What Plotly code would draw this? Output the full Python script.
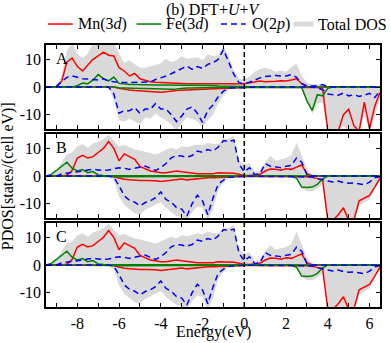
import numpy as np
import plotly.graph_objects as go
from plotly.subplots import make_subplots

# energy grid (eV), 0.25 eV steps from -9.5 to 6.5
energy = np.round(np.arange(-9.5, 6.51, 0.25), 2)

# ---------------- panel A ----------------
mn_up_a = [0, 0, 0, 2, 9, 10.5, 7.5, 5.8,
           8, 10, 11.3, 12.6, 11.5, 11.2, 7, 5.8,
           4, 4.9, 3, 2.5, 1.9, 1.7, 1.6, 1.4,
           1.4, 1.3, 1.3, 1.2, 1.2, 1.2, 1.1, 1.1,
           1.0, 1.0, 1.0, 1.0, 1.0, 1.0, 1.2, 1.5,
           1.8, 2.2, 1.9, 1.9, 2.1, 2.3, 2.2, 2.5,
           3.0, 1.2, 0.2, 0.1, 0, 0, 0, 0,
           0, 0, 0, 0, 0, 0, 0, 0,
           0]
mn_dn_a = [0, 0, 0, 0, 0, 0, 0, 0,
           0, 0, 0, 0, 0, 0, -0.5, -0.9,
           -1.1, -1.3, -1.4, -1.4, -1.5, -1.7, -1.9, -1.7,
           -1.4, -1.3, -1.2, -1.2, -1.0, -0.9, -0.8, -0.7,
           -0.6, -0.5, -0.4, -0.4, -0.3, -0.2, -0.1, -0.1,
           -0.1, -0.1, -0.1, -0.1, -0.1, -0.1, -0.1, -0.1,
           -0.1, -0.1, -0.1, -0.2, -0.2, -0.5, -16, -16,
           -16, -10, -8, -14, -16, -5.5, -15, -7,
           -2]
fe_up_a = [0, 0, 0, 0, 0, 0, 0.5, 1.4,
           1.2, 2.5, 4.5, 3.0, 2.2, 3.6, 1.3, 1.0,
           0.9, 0.9, 0.8, 0.8, 0.8, 0.7, 0.7, 0.7,
           0.6, 0.6, 0.6, 0.6, 0.6, 0.6, 0.6, 0.5,
           0.5, 0.4, 0.4, 0.3, 0.3, 0.2, 0.2, 0.1,
           0.1, 0.1, 0.1, 0.1, 0.1, 0.1, 0.1, 0.1,
           0.1, 0.1, 0, 0, 0, 0, 0, 0,
           0, 0, 0, 0, 0, 0, 0, 0,
           0]
fe_dn_a = [0, 0, 0, 0, 0, 0, 0, 0,
           0, 0, 0, 0, 0, 0, -0.3, -0.4,
           -0.5, -0.5, -0.5, -0.5, -0.6, -0.6, -0.7, -0.8,
           -0.8, -0.7, -0.5, -0.4, -0.4, -0.3, -0.3, -0.3,
           -0.2, -0.2, -0.2, -0.2, -0.1, -0.1, 0, 0,
           0, 0, 0, 0, 0, 0, 0, 0,
           0, -0.2, -5, -8.5, -2.8, -3.2, -0.5, 0,
           0, 0, 0, 0, 0, 0, 0, 0,
           0]
o_up_a = [0, 0, 0.3, 2, 3.5, 4, 3.4, 3.0,
          2.9, 2.7, 2.5, 3.0, 2.2, 1.9, 1.6, 1.6,
          1.6, 1.6, 1.6, 1.8, 1.8, 2.7, 3.3, 4.0,
          4.8, 5.8, 6.8, 7.6, 6.4, 7.4, 6.7, 8.2,
          8.8, 10, 13.5, 9, 4.6, 1.5, 1.2, 1.7,
          2.6, 3.3, 3.8, 3.9, 4.2, 4.0, 4.0, 4.5,
          3.5, 1.2, 0.4, 0.4, 0.5, 0.9, 0.1, 0,
          0, 0, 0, 0, 0, 0, 0, 0,
          0]
o_dn_a = [0, 0, 0, 0, 0, 0, 0, 0,
          0, 0, 0, 0, 0, -2.5, -9.5, -8.5,
          -8.6, -7.5, -9.5, -8, -8, -6, -8, -8,
          -10, -12.5, -10.5, -8, -7.2, -9.5, -12.8, -8.5,
          -6.5, -3.5, -1.5, -0.4, -0.3, -0.1, 0, 0,
          0, 0, 0, 0, 0, 0, 0, 0,
          0, 0, 0, 0, -0.3, -1.0, -2.5, -2.8,
          -3.0, -2.2, -3.2, -2.8, -3.4, -3.0, -2.3, -3.8,
          -1.5]
tot_up_a = [0, 0, 0.5, 4, 13, 16, 12, 10.5,
            12, 16, 17, 17, 17, 16, 12, 8.8,
            9.8, 8.2, 7, 7, 7.6, 8, 8.6, 10.2,
            9, 9.6, 11.2, 10.2, 10.5, 10.8, 9.8, 11.8,
            11.2, 11.5, 15, 11, 6, 3, 2.8, 3.8,
            5.5, 6.5, 7, 6.5, 5.5, 6, 5.5, 7.2,
            8.5, 4, 1.6, 1.0, 1.0, 1.2, 0.2, 0,
            0, 0, 0, 0, 0, 0, 0, 0,
            0]
tot_dn_a = [0, 0, 0, 0, 0, 0, 0, 0,
            0, 0, 0, 0, 0, -5, -12, -12.5,
            -11.5, -12.5, -13.5, -11, -11.5, -9.5, -11, -12,
            -13.5, -16, -13, -11, -11.5, -12.5, -14.5, -12,
            -10, -6, -3, -1, -0.5, -0.3, -0.2, -0.2,
            -0.2, -0.2, -0.2, -0.2, -0.2, -0.2, -0.2, -0.2,
            -0.2, -0.5, -5.5, -9.8, -6, -5.5, -16, -16,
            -16, -14, -16, -16, -16, -10, -16, -11,
            -4]

# ---------------- panel B ----------------
mn_up_b = [0, 0, 0, 0, 0.3, 2, 6.5, 7.5,
           6.5, 7.0, 8.5, 10, 12.5, 10, 5.5, 8,
           7, 6, 3.5, 2.5, 1.8, 1.5, 1.2, 1.2,
           1.5, 1.8, 1.5, 1.2, 1.0, 0.8, 0.8, 0.8,
           0.8, 1.2, 1.2, 1.1, 1.0, 0.6, 0.2, 0.2,
           0.3, 0.6, 1.8, 2.5, 2.4, 2.1, 2.6, 2.4,
           3.2, 4.0, 0.8, 0, 0, 0, 0, 0,
           0, 0, 0, 0, 0, 0, 0, 0,
           0]
mn_dn_b = [0, 0, 0, 0, 0, 0, 0, 0,
           0, 0, 0, 0, 0, -0.3, -0.8, -1.2,
           -1.4, -1.6, -1.6, -1.6, -1.6, -1.7, -2.0, -1.8,
           -1.5, -1.3, -1.1, -1.4, -1.2, -0.9, -0.7, -0.6,
           -0.6, -0.5, -0.4, -0.3, -0.2, -0.2, -0.2, -0.2,
           -0.2, -0.2, -0.2, -0.2, -0.2, -0.2, -0.2, -0.2,
           -0.2, -0.2, -0.3, -0.5, -1.0, -1.3, -16, -16,
           -14, -11.5, -16, -16, -9, -8, -7, -4,
           -0.8]
fe_up_b = [0, 0.6, 2, 3.5, 5.0, 2.8, 1.8, 2.3,
           1.2, 1.6, 0.4, 0.2, 0.2, 0.2, 0.2, 0.2,
           0.2, 0.2, 0.2, 0.2, 0.2, 0.2, 0.2, 0.2,
           0.2, 0.2, 0.2, 0.2, 0.2, 0.2, 0.2, 0.2,
           0.2, 0.2, 0.1, 0.1, 0.1, 0.1, 0.1, 0.1,
           0.1, 0.1, 0.1, 0.1, 0.1, 0.1, 0.1, 0.1,
           0.1, 0.1, 0, 0, 0, 0, 0, 0,
           0, 0, 0, 0, 0, 0, 0, 0,
           0]
fe_dn_b = [0, 0, 0, 0, 0, 0, 0, 0,
           0, 0, 0, 0, 0, -0.2, -0.3, -0.3,
           -0.3, -0.3, -0.3, -0.3, -0.3, -0.3, -0.3, -0.3,
           -0.3, -0.3, -0.3, -0.3, -0.3, -0.3, -0.3, -0.3,
           -0.3, -0.2, -0.2, -0.2, -0.1, -0.1, 0, 0,
           0, 0, 0, 0, 0, 0, 0, 0,
           -0.8, -4, -4.2, -4.0, -3.0, -1.0, 0, 0,
           0, 0, 0, 0, 0, 0, 0, 0,
           0]
o_up_b = [0, 0, 0, 0.8, 1.0, 1.2, 1.5, 1.8,
          2.2, 2.4, 2.2, 2.0, 2.2, 2.6, 3.0, 2.8,
          2.4, 2.8, 3.3, 3.6, 2.8, 2.0, 3.0, 4.5,
          6.6, 7.4, 7.2, 6.8, 7.4, 9, 8.6, 9.6,
          9, 10.5, 12.8, 12.5, 13, 4.2, 1.5, 3.0,
          0.5, 0.8, 4.5, 3.5, 3.3, 3.0, 3.5, 3.8,
          6.5, 5.0, 0.5, 0.1, 0, 0, 0, 0,
          0, 0, 0, 0, 0, 0, 0, 0,
          0]
o_dn_b = [0, 0, 0, 0, 0, 0, 0, 0,
          0, 0, 0, 0, 0, -0.5, -3.5, -7.2,
          -8.8, -9.5, -10.8, -9.6, -9.0, -7.8, -5.8, -8.5,
          -9.5, -11.4, -12, -14.5, -10, -7, -9, -14,
          -8, -3, -1.5, -0.5, -0.3, -0.1, -0.1, -0.1,
          -0.1, -0.1, -0.1, -0.1, -0.1, -0.1, -0.1, -0.1,
          -0.1, -0.1, -0.1, -0.3, -1.0, -1.5, -1.8, -2.2,
          -1.8, -2.4, -2.6, -2.5, -2.8, -3.2, -2.2, -0.6,
          -0.3]
tot_up_b = [0, 0.5, 2.2, 5, 7.8, 8.5, 10.8, 11.5,
            10.2, 11.8, 12.4, 13.3, 15, 12.8, 10.8, 11.2,
            10.5, 9.6, 9.2, 8.6, 8.2, 7.8, 8.5, 9.5,
            10.2, 9.6, 10.8, 10.4, 10.8, 11.4, 11, 12,
            11.6, 11.5, 13.3, 13.5, 14.5, 5.5, 4.2, 4.5,
            1.5, 1.8, 5, 7.2, 5.5, 6, 6.5, 7.5,
            12, 7.5, 2.5, 0.5, 0.3, 0, 0, 0,
            0, 0, 0, 0, 0, 0, 0, 0,
            0]
tot_dn_b = [0, 0, 0, 0, 0, 0, 0, 0,
            0, 0, 0, 0, 0, -1.5, -7.5, -10.5,
            -12, -13.5, -13.9, -12.2, -11.4, -10.2, -9.5, -11.5,
            -13, -14.5, -15, -16, -13, -11, -11.5, -16,
            -12, -5, -2.5, -0.6, -0.4, -0.4, -0.4, -0.4,
            -0.4, -0.4, -0.4, -0.4, -0.4, -0.4, -0.4, -0.4,
            -1, -4.5, -5.4, -5.5, -4.5, -3.0, -16, -16,
            -16, -16, -16, -16, -11, -9.5, -8.5, -4.5,
            -1.5]

# panel C looks the same as B in the figure
panels = {
    "A": dict(mn=(mn_up_a, mn_dn_a), fe=(fe_up_a, fe_dn_a), o=(o_up_a, o_dn_a), tot=(tot_up_a, tot_dn_a)),
    "B": dict(mn=(mn_up_b, mn_dn_b), fe=(fe_up_b, fe_dn_b), o=(o_up_b, o_dn_b), tot=(tot_up_b, tot_dn_b)),
    "C": dict(mn=(mn_up_b, mn_dn_b), fe=(fe_up_b, fe_dn_b), o=(o_up_b, o_dn_b), tot=(tot_up_b, tot_dn_b)),
}

x_ticks = list(range(-9, 7))
x_ticktext = [str(v) if v % 2 == 0 else "" for v in x_ticks]
y_ticks = [-10, 0, 10]
y_ticktext = ["-10", "0", "10"]

RED = "#ff0000"
GREEN = "#008000"
BLUE = "#0000ff"
GREY = "#d9d9d9"
FONT = "Liberation Serif"

fig = make_subplots(rows=3, cols=1, shared_xaxes=True, vertical_spacing=5 / 262)

for row, (name, d) in enumerate(panels.items(), start=1):
    for spin in d["tot"]:
        fig.add_trace(go.Scatter(x=energy, y=spin, mode="lines", fill="tozeroy",
                                 fillcolor=GREY, line=dict(width=0, color=GREY),
                                 showlegend=False), row=row, col=1)
    for spin in d["mn"]:
        fig.add_trace(go.Scatter(x=energy, y=spin, mode="lines",
                                 line=dict(color=RED, width=1.5), showlegend=False), row=row, col=1)
    for spin in d["fe"]:
        fig.add_trace(go.Scatter(x=energy, y=spin, mode="lines",
                                 line=dict(color=GREEN, width=1.5), showlegend=False), row=row, col=1)
    for spin in d["o"]:
        fig.add_trace(go.Scatter(x=energy, y=spin, mode="lines",
                                 line=dict(color=BLUE, width=1.5, dash="6px,4px"), showlegend=False),
                      row=row, col=1)
    fig.add_annotation(text=name, xref="x domain" if row == 1 else f"x{row} domain",
                       yref="y domain" if row == 1 else f"y{row} domain",
                       x=0.025, y=0.84, xanchor="left", yanchor="middle", showarrow=False,
                       font=dict(size=16, family=FONT, color="black"))

fig.add_vline(x=0, line=dict(color="black", width=1.5, dash="5px,3px"), row="all", col=1)

fig.update_xaxes(range=[-9.5, 6.5], tickvals=x_ticks, ticktext=x_ticktext, ticks="inside",
                 ticklen=4, tickwidth=1, tickcolor="black", showline=True, linecolor="black",
                 linewidth=1.5, mirror="ticks", showgrid=False, zeroline=False,
                 ticklabelstandoff=1)
fig.update_yaxes(range=[-15.2, 15.2], tickvals=y_ticks, ticktext=y_ticktext, ticks="inside",
                 ticklen=4, tickwidth=1, tickcolor="black", showline=True, linecolor="black",
                 linewidth=1.5, mirror="ticks", showgrid=False, zeroline=False)

# legend drawn by hand: (label, colour, dash, width, line x0, line x1, text x) in paper units
legend_items = [
    ("Mn(3<i>d</i>)", RED, "solid", 1.5, 0.006, 0.080, 0.090),
    ("Fe(3<i>d</i>)", GREEN, "solid", 1.5, 0.271, 0.345, 0.352),
    ("O(2<i>p</i>)", BLUE, "6px,4px", 1.5, 0.524, 0.598, 0.612),
    ("Total DOS", GREY, "solid", 5, 0.741, 0.801, 0.808),
]
leg_y = 1.080
for label, col, dash, w, x0, x1, xt in legend_items:
    fig.add_shape(type="line", xref="paper", yref="paper", x0=x0, x1=x1, y0=leg_y, y1=leg_y,
                  line=dict(color=col, width=w, dash=dash))
    fig.add_annotation(text=label, xref="paper", yref="paper", x=xt, y=leg_y, xanchor="left",
                       yanchor="middle", showarrow=False, font=dict(size=16, family=FONT, color="black"))

fig.add_annotation(text="(b) DFT+<i>U</i>+<i>V</i>", xref="paper", yref="paper", x=0.5, y=1.134,
                   xanchor="center", yanchor="middle", showarrow=False,
                   font=dict(size=16, family=FONT, color="black"))
fig.add_annotation(text="PDOS[states/(cell eV)]", xref="paper", yref="paper", x=-0.113, y=0.5,
                   textangle=-90, xanchor="center", yanchor="middle", showarrow=False,
                   font=dict(size=16, family=FONT, color="black"))
fig.add_annotation(text="Energy(eV)", xref="paper", yref="paper", x=0.5, y=-0.094,
                   xanchor="center", yanchor="middle", showarrow=False,
                   font=dict(size=16, family=FONT, color="black"))

fig.update_layout(width=391, height=343, margin=dict(l=46, r=9, t=45, b=36),
                  plot_bgcolor="white", paper_bgcolor="white", showlegend=False,
                  font=dict(family=FONT, size=16, color="black"))

# drop the default page margin so the figure fills the window exactly
fig.write_html("out.html", config={"displayModeBar": False},
               post_script="document.body.style.margin='0px';")
